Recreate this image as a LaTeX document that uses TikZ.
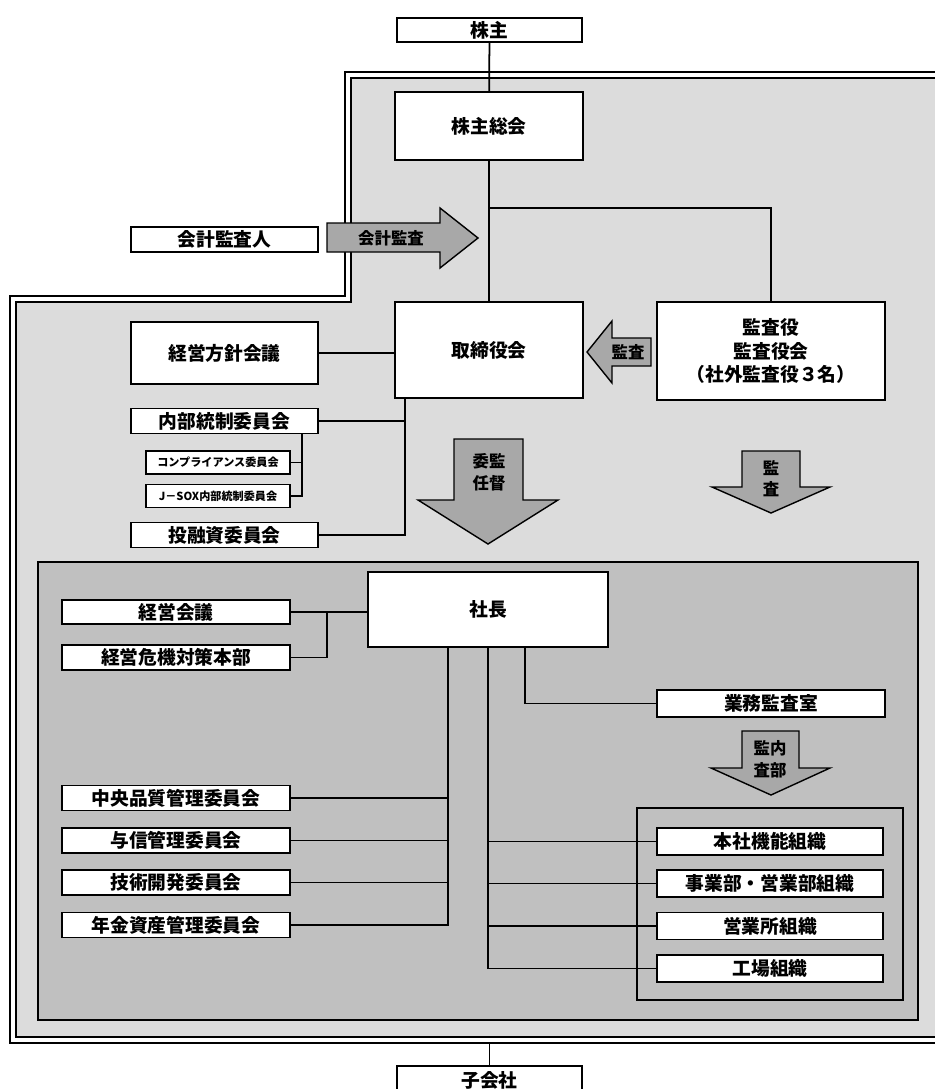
\documentclass[tikz,border=0pt]{standalone}
\usepackage{fontspec}
\setmainfont{Noto Sans CJK JP}
\usetikzlibrary{positioning,calc}
\definecolor{outergray}{HTML}{DCDCDC}
\definecolor{innergray}{HTML}{C0C0C0}
\definecolor{arrowgray}{HTML}{A8A8A8}

\begin{document}
\begin{tikzpicture}[
  x=0.03cm, y=-0.03cm,
  box/.style={draw, fill=white, line width=1.4pt, inner sep=0pt, align=center,
              font=\fontsize{16}{20}\selectfont\bfseries},
  sbox/.style={box, minimum width=5.61cm, minimum height=0.76cm},
  lbox/.style={box, minimum width=6.84cm, minimum height=0.76cm},
  rbox/.style={box, minimum width=6.78cm, minimum height=0.81cm},
  tinybox/.style={box, minimum width=4.32cm, minimum height=0.7cm,
                  font=\fontsize{9.5}{11}\selectfont\bfseries},
  blockarrow/.style={draw, fill=arrowgray, line width=1.2pt, line join=miter},
  arrowtext/.style={inner sep=0pt, align=center,
                    font=\fontsize{14}{18.5}\selectfont\bfseries},
  link/.style={draw, line width=1.5pt},
  frame/.style={line width=1.2pt}
]
  \useasboundingbox (0,0) rectangle (935,1089);

  % frames
  \fill[outergray] (960,78) -- (351,78) -- (351,302) -- (16,302) -- (16,1037) -- (960,1037) -- cycle;
  \draw[frame] (960,72) -- (345,72) -- (345,296) -- (10,296) -- (10,1043) -- (960,1043);
  \draw[frame] (960,78) -- (351,78) -- (351,302) -- (16,302) -- (16,1037) -- (960,1037);
  \draw[frame, fill=innergray, line width=1.4pt] (38,562) rectangle (918,1020);
  \draw[frame, line width=1.4pt] (637,808) rectangle (903,1000);

  % top level
  \node[box, minimum width=5.55cm, minimum height=0.72cm] (kabunushi) at (489.5,30) {株主};
  \node[box, minimum width=5.64cm, minimum height=2.04cm] (soukai) at (489,126) {株主総会};
  \node[sbox] (kaikei) at (224.5,239.5) {会計監査人};
  \node[box, minimum width=5.64cm, minimum height=2.88cm] (torishimari) at (489,350) {取締役会};
  \node[box, minimum width=6.84cm, minimum height=2.94cm] (kansayaku) at (771,351)
    {監査役\\監査役会\\（社外監査役３名）};
  \node[box, minimum width=5.61cm, minimum height=1.86cm] (houshin) at (224.5,353) {経営方針会議};
  \node[sbox] (naibu) at (224.5,421) {内部統制委員会};
  \node[tinybox] (comp) at (218,462.5) {コンプライアンス委員会};
  \node[tinybox] (jsox) at (218,496) {J－SOX内部統制委員会};
  \node[sbox] (toyushi) at (224.5,535) {投融資委員会};

  % executive level
  \node[box, minimum width=7.2cm, minimum height=2.25cm] (shacho) at (488,609.5) {社長};
  \node[lbox, minimum height=0.72cm] (keieikaigi) at (176,612) {経営会議};
  \node[lbox] (kiki) at (176,657.5) {経営危機対策本部};
  \node[lbox, minimum height=0.8cm] (gyomu) at (771,703.5) {業務監査室};
  \node[lbox] (chuo) at (176,798) {中央品質管理委員会};
  \node[lbox] (yoshin) at (176,840.5) {与信管理委員会};
  \node[lbox] (gijutsu) at (176,882.5) {技術開発委員会};
  \node[lbox] (nenkin) at (176,925) {年金資産管理委員会};
  \node[rbox] (honsha) at (770,841.5) {本社機能組織};
  \node[rbox] (jigyo) at (770,883.5) {事業部・営業部組織};
  \node[rbox] (eigyo) at (770,926) {営業所組織};
  \node[rbox] (kojo) at (770,968.5) {工場組織};
  \node[box, minimum width=5.55cm, minimum height=0.84cm] (kogaisha) at (489.5,1080) {子会社};

  % block arrows
  \draw[blockarrow] (327,223) -- (440,223) -- (440,208) -- (478,238) -- (440,268)
    -- (440,252) -- (327,252) -- cycle;
  \node[arrowtext] (kaikeikansa) at (391,238) {会計監査};
  \draw[blockarrow] (651,338) -- (612,338) -- (612,321) -- (587,352) -- (612,383)
    -- (612,366) -- (651,366) -- cycle;
  \node[arrowtext] (kansaleft) at (628,352) {監査};
  \draw[blockarrow] (454,439) -- (523,439) -- (523,500) -- (558,500) -- (488,544)
    -- (418,500) -- (454,500) -- cycle;
  \node[arrowtext] (inin) at (489,472.5) {委監\\任督};
  \draw[blockarrow] (742,451) -- (800,451) -- (800,487) -- (830,487) -- (771,513)
    -- (712,487) -- (742,487) -- cycle;
  \node[arrowtext] (kansadown) at (771,478.5) {監\\査};
  \draw[blockarrow] (742,731) -- (799,731) -- (799,768) -- (830,768) -- (771,795)
    -- (711,768) -- (742,768) -- cycle;
  \node[arrowtext] (naibukansa) at (770,759) {監内\\査部};

  % connectors
  \coordinate (jA) at (489,208);
  \coordinate (tb) at (405,398);
  \coordinate (nb) at (302,434);
  \coordinate (kk) at (327,612);
  \coordinate (s1) at (448,647);
  \coordinate (s2) at (488,647);
  \coordinate (s3) at (525,647);
  \coordinate (fb) at (489.5,1043);

  \draw[link] (kabunushi) -- (soukai);
  \draw[link] (soukai) -- (torishimari);
  \draw[link] (jA) -| (kansayaku.north);
  \draw[link] (houshin.east) -- (houshin.east -| torishimari.west);
  \draw[link] (tb) |- (toyushi.east);
  \draw[link] (naibu.east) -- (naibu.east -| tb);
  \draw[link] (nb) |- (jsox.east);
  \draw[link] (comp.east) -- (comp.east -| nb);
  \draw[link] (keieikaigi.east) -- (keieikaigi.east -| shacho.west);
  \draw[link] (kk) |- (kiki.east);
  \draw[link] (s1) |- (nenkin.east);
  \draw[link] (s2) |- (kojo.west);
  \draw[link] (s3) |- (gyomu.west);
  \draw[link] (chuo.east) -- (chuo.east -| s1);
  \draw[link] (yoshin.east) -- (yoshin.east -| s1);
  \draw[link] (gijutsu.east) -- (gijutsu.east -| s1);
  \draw[link] (honsha.west -| s2) -- (honsha.west);
  \draw[link] (jigyo.west -| s2) -- (jigyo.west);
  \draw[link] (eigyo.west -| s2) -- (eigyo.west);
  \draw[link] (fb) -- (kogaisha.north);
\end{tikzpicture}
\end{document}
